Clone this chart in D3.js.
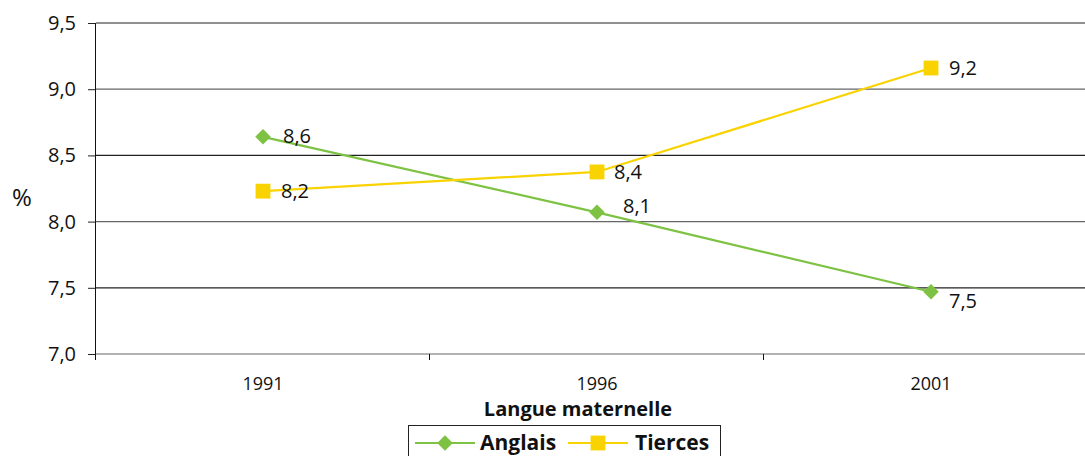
<!DOCTYPE html>
<html>
<head>
<meta charset="utf-8">
<script src="https://cdn.jsdelivr.net/npm/d3@7"></script>
<style>
  body { margin: 0; background: #fff; }
  svg { display: block; font-family: "Open Sans", "Noto Sans", sans-serif; }
</style>
</head>
<body>
<div id="chart"></div>
<script>
const years = ["1991", "1996", "2001"];
const anglais = [8.64, 8.07, 7.47];
const tierces = [8.23, 8.375, 9.16];
const anglaisLabels = ["8,6", "8,1", "7,5"];
const tiercesLabels = ["8,2", "8,4", "9,2"];
const yTicks = [7.0, 7.5, 8.0, 8.5, 9.0, 9.5];

const W = 1085, H = 456;
const margin = {top: 23, right: -13, bottom: 102, left: 96};
const width = W - margin.left - margin.right;
const height = H - margin.top - margin.bottom;

const green = "#7dc243", yellow = "#f9d300";
const font = "'Open Sans', sans-serif";

const svg = d3.select("#chart").append("svg")
    .attr("width", W)
    .attr("height", H);

const g = svg.append("g")
    .attr("transform", `translate(${margin.left},${margin.top})`);

const x = d3.scaleBand().domain(years).range([0, width]);
const y = d3.scaleLinear().domain([7, 9.5]).range([height, 0]);

// y axis
const yAxis = g.append("g")
    .call(d3.axisLeft(y).tickValues(yTicks).tickSize(8).tickFormat(d => d3.format(".1f")(d).replace(".", ",")));
yAxis.select(".domain").remove();
yAxis.selectAll(".tick line").attr("stroke", "#222");
yAxis.selectAll(".tick text")
    .attr("x", -20)
    .style("font-size", "20px")
    .style("font-family", font)
    .attr("fill", "#111");

// gridlines
g.append("g")
  .selectAll("line")
  .data(yTicks)
  .join("line")
    .attr("x1", 0).attr("x2", width)
    .attr("y1", d => y(d)).attr("y2", d => y(d))
    .attr("stroke", (d, i) => i % 2 ? "#222" : "#666")
    .attr("stroke-width", 1.2);

// left axis line
g.append("line")
    .attr("x1", -0.5).attr("x2", -0.5)
    .attr("y1", 0).attr("y2", height + 6)
    .attr("stroke", "#111");

// x axis
const xAxis = g.append("g")
    .attr("transform", `translate(0,${height})`)
    .call(d3.axisBottom(x).tickSize(0));
xAxis.select(".domain").remove();
xAxis.selectAll(".tick text")
    .attr("y", 36)
    .attr("dy", 0)
    .style("font-size", "18px")
    .style("font-family", font)
    .attr("fill", "#111");

g.append("g")
  .selectAll("line")
  .data(years.slice(1))
  .join("line")
    .attr("x1", d => x(d) - 0.5).attr("x2", d => x(d) - 0.5)
    .attr("y1", height).attr("y2", height + 6)
    .attr("stroke", "#111");

// % label
svg.append("text")
    .attr("x", 22).attr("y", 206)
    .attr("text-anchor", "middle")
    .style("font-size", "24px")
    .attr("fill", "#111")
    .text("%");

// x title
svg.append("text")
    .attr("x", 578).attr("y", 416)
    .attr("text-anchor", "middle")
    .style("font-size", "20px")
    .attr("font-weight", "bold")
    .attr("fill", "#111")
    .text("Langue maternelle");

const cx = d => x(d) + x.bandwidth() / 2;
const line = d3.line().x((d, i) => cx(years[i])).y(d => y(d));

const series = [
  {name: "Anglais", values: anglais, labels: anglaisLabels, color: green, size: 120, rotate: 45},
  {name: "Tierces", values: tierces, labels: tiercesLabels, color: yellow, size: 220, rotate: 0}
];

series.forEach(s => {
  g.append("path")
      .datum(s.values)
      .attr("fill", "none")
      .attr("stroke", s.color)
      .attr("stroke-width", 2.2)
      .attr("d", line);
});

function marker(sel, s) {
  sel.append("path")
      .attr("d", d3.symbol(d3.symbolSquare, s.size)())
      .attr("transform", d => `translate(${d.x},${d.y}) rotate(${s.rotate})`)
      .attr("fill", s.color);
}

series.forEach(s => {
  const pts = s.values.map((v, i) => ({x: cx(years[i]), y: y(v)}));
  const mg = g.append("g").selectAll("g").data(pts).join("g");
  marker(mg, s);
});

// data labels
const labelOffsets = {
  Anglais: [[20, 6], [26, 1], [18, 16]],
  Tierces: [[18, 7], [17, 7], [18, 7]]
};
series.forEach(s => {
  g.append("g")
    .selectAll("text")
    .data(s.values)
    .join("text")
      .attr("x", (d, i) => cx(years[i]) + labelOffsets[s.name][i][0])
      .attr("y", (d, i) => y(d) + labelOffsets[s.name][i][1])
      .style("font-size", "20px")
      .attr("fill", "#111")
      .text((d, i) => s.labels[i]);
});

// legend
const lg = svg.append("g").attr("transform", "translate(408,425)");
lg.append("rect")
    .attr("x", 0.5).attr("y", 0.5)
    .attr("width", 312).attr("height", 40)
    .attr("fill", "#fff")
    .attr("stroke", "#222");

const legendItems = [
  {s: series[0], lx: 7, tx: 72},
  {s: series[1], lx: 160, tx: 227}
];
legendItems.forEach(it => {
  const ly = 18;
  lg.append("line")
      .attr("x1", it.lx).attr("x2", it.lx + 60)
      .attr("y1", ly).attr("y2", ly)
      .attr("stroke", it.s.color)
      .attr("stroke-width", 2.2);
  marker(lg.append("g").datum({x: it.lx + 30, y: ly}), it.s);
  lg.append("text")
      .attr("x", it.tx).attr("y", ly + 7)
      .style("font-size", "21px")
      .attr("font-weight", "bold")
      .attr("fill", "#111")
      .text(it.s.name);
});
</script>
</body>
</html>
